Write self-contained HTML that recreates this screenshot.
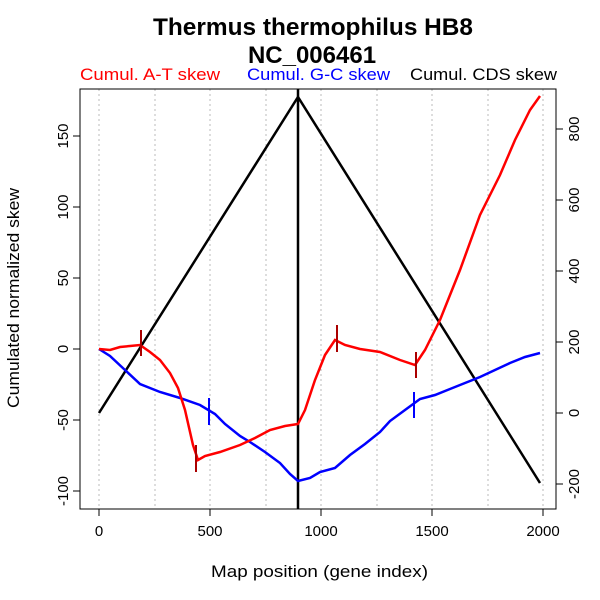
<!DOCTYPE html>
<html><head><meta charset="utf-8"><style>body{margin:0;background:#fff}svg{display:block}</style></head>
<body>
<svg width="600" height="600" viewBox="0 0 600 600" xmlns="http://www.w3.org/2000/svg" font-family="Liberation Sans, sans-serif">
<rect width="600" height="600" fill="#fff"/>
<g stroke="#bbb" stroke-dasharray="2,3" stroke-width="1">
<line x1="99" y1="89" x2="99" y2="509"/><line x1="155" y1="89" x2="155" y2="509"/><line x1="210" y1="89" x2="210" y2="509"/><line x1="266" y1="89" x2="266" y2="509"/><line x1="321" y1="89" x2="321" y2="509"/><line x1="377" y1="89" x2="377" y2="509"/><line x1="432" y1="89" x2="432" y2="509"/><line x1="488" y1="89" x2="488" y2="509"/><line x1="543" y1="89" x2="543" y2="509"/>
</g>
<rect x="80" y="89" width="476" height="420" fill="none" stroke="#000"/>
<g stroke="#000">
<line x1="99" y1="509" x2="543" y2="509"/>
<line x1="99" y1="509" x2="99" y2="516"/><line x1="210" y1="509" x2="210" y2="516"/><line x1="321" y1="509" x2="321" y2="516"/><line x1="432" y1="509" x2="432" y2="516"/><line x1="543" y1="509" x2="543" y2="516"/>
<line x1="80" y1="136" x2="73" y2="136"/><line x1="80" y1="207" x2="73" y2="207"/><line x1="80" y1="278" x2="73" y2="278"/><line x1="80" y1="349" x2="73" y2="349"/><line x1="80" y1="420" x2="73" y2="420"/><line x1="80" y1="491" x2="73" y2="491"/>
<line x1="556" y1="129" x2="563" y2="129"/><line x1="556" y1="200" x2="563" y2="200"/><line x1="556" y1="271" x2="563" y2="271"/><line x1="556" y1="342" x2="563" y2="342"/><line x1="556" y1="413" x2="563" y2="413"/><line x1="556" y1="484" x2="563" y2="484"/>
</g>
<g font-size="15" text-anchor="middle">
<text x="99" y="536">0</text><text x="210" y="536">500</text><text x="321" y="536">1000</text><text x="432" y="536">1500</text><text x="543" y="536">2000</text>
<g transform="translate(68,0)"><text transform="translate(0,136) rotate(-90)">150</text><text transform="translate(0,207) rotate(-90)">100</text><text transform="translate(0,278) rotate(-90)">50</text><text transform="translate(0,349) rotate(-90)">0</text><text transform="translate(0,420) rotate(-90)">-50</text><text transform="translate(0,491) rotate(-90)">-100</text></g>
<g transform="translate(579,0)"><text transform="translate(0,129) rotate(-90)">800</text><text transform="translate(0,200) rotate(-90)">600</text><text transform="translate(0,271) rotate(-90)">400</text><text transform="translate(0,342) rotate(-90)">200</text><text transform="translate(0,413) rotate(-90)">0</text><text transform="translate(0,484) rotate(-90)">-200</text></g>
</g>
<text x="211" y="577" font-size="17" textLength="217" lengthAdjust="spacingAndGlyphs">Map position (gene index)</text>
<text transform="translate(19,408) rotate(-90)" font-size="17" textLength="220" lengthAdjust="spacingAndGlyphs">Cumulated normalized skew</text>
<text x="153" y="35" font-size="24" font-weight="bold" textLength="320" lengthAdjust="spacingAndGlyphs">Thermus thermophilus HB8</text>
<text x="312" y="63" font-size="24" font-weight="bold" text-anchor="middle">NC_006461</text>
<text x="80" y="80" font-size="17" fill="#f00" textLength="140" lengthAdjust="spacingAndGlyphs">Cumul. A-T skew</text>
<text x="247" y="80" font-size="17" fill="#00f" textLength="143" lengthAdjust="spacingAndGlyphs">Cumul. G-C skew</text>
<text x="410" y="80" font-size="17" fill="#000" textLength="147" lengthAdjust="spacingAndGlyphs">Cumul. CDS skew</text>
<polyline fill="none" stroke="#000" stroke-width="2.5" points="99,413 298,97 540,483"/>
<line x1="298" y1="89" x2="298" y2="509" stroke="#000" stroke-width="2.5"/>
<polyline fill="none" stroke="#00f" stroke-width="2.5" points="99,349 110,356 125,370 140,384 160,392 180,398 200,405 215,414 225,424 240,436 250,442 265,452 280,463 290,474 298,481 310,478 320,472 335,468 350,455 365,444 380,432 390,421 405,410 420,399 435,395 450,389 465,383 480,377 495,370 510,363 525,357 540,353"/>
<polyline fill="none" stroke="#f00" stroke-width="2.5" points="99,349 110,350 120,347 130,346 140,345 150,352 160,360 170,373 178,388 185,410 193,445 198,460 205,456 220,452 240,445 255,438 270,430 285,426 298,424 305,410 315,380 325,355 335,340 345,345 360,349 380,352 400,360 415,365 425,350 440,320 460,270 480,215 500,175 515,140 530,110 540,96"/>
<g stroke="#a00" stroke-width="2">
<line x1="141" y1="330" x2="141" y2="356"/><line x1="196" y1="445" x2="196" y2="472"/><line x1="337" y1="325" x2="337" y2="352"/><line x1="416" y1="352" x2="416" y2="378"/>
</g>
<g stroke="#00f" stroke-width="2">
<line x1="209" y1="398" x2="209" y2="425"/><line x1="414" y1="392" x2="414" y2="418"/>
</g>
</svg>
</body></html>
